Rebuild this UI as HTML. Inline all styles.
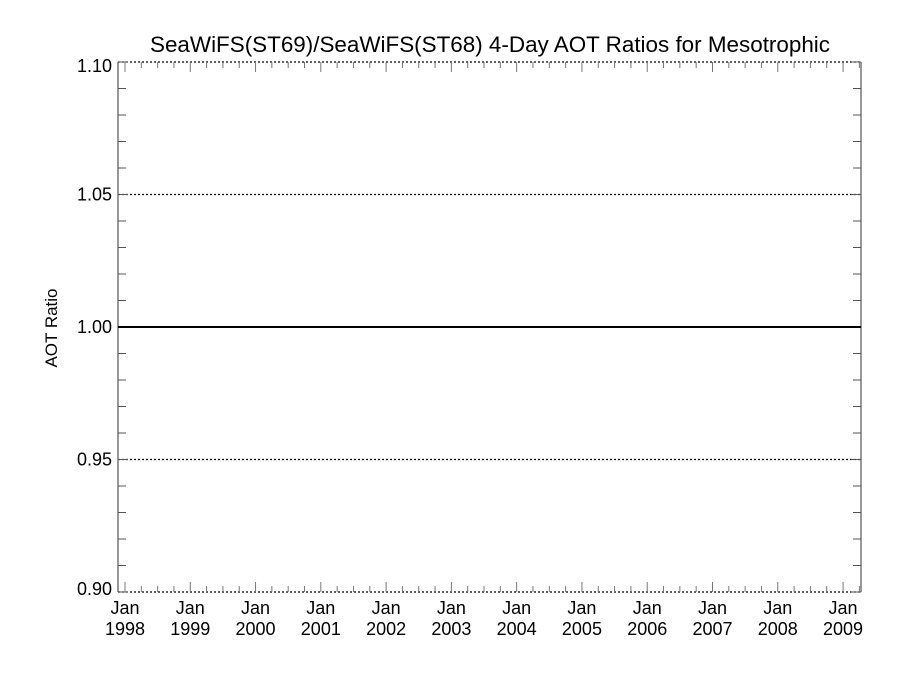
<!DOCTYPE html>
<html><head><meta charset="utf-8"><style>
body{margin:0;background:#fff;}
svg{display:block;font-family:"Liberation Sans",Helvetica,sans-serif;}
</style></head><body>
<svg id="chart" width="900" height="675" viewBox="0 0 900 675">
<text x="490" y="52" font-size="22" text-anchor="middle" textLength="680" lengthAdjust="spacingAndGlyphs">SeaWiFS(ST69)/SeaWiFS(ST68) 4-Day AOT Ratios for Mesotrophic</text>
<text transform="translate(57,328) rotate(-90)" font-size="17" text-anchor="middle">AOT Ratio</text>
<g id="grid"></g><g id="axes"></g><g id="marks"></g>
</svg>
<script>
const yTicks = [0.90, 0.95, 1.00, 1.05, 1.10];
const yTickLabels = ["0.90", "0.95", "1.00", "1.05", "1.10"];
const gridValues = [0.95, 1.05];
const referenceValue = [1.00];
const years = [1998,1999,2000,2001,2002,2003,2004,2005,2006,2007,2008,2009];

const L=118, R=861, T=62, B=592;
const yMin=0.90, yMax=1.10, xMin=1997.893, xMax=2009.275;
const ys = v => B - (v - yMin) / (yMax - yMin) * (B - T);
const xs = v => L + (v - xMin) / (xMax - xMin) * (R - L);
const NS="http://www.w3.org/2000/svg";
function mk(parent, tag, attrs){const e=document.createElementNS(NS,tag);for(const k in attrs)e.setAttribute(k,attrs[k]);document.getElementById(parent).appendChild(e);return e;}

gridValues.forEach(v=>{
  const l=mk('grid','line',{x1:L,x2:R,y1:ys(v),y2:ys(v),stroke:'#000','stroke-width':1.2,'stroke-dasharray':'2,2'});
  
  
});
referenceValue.forEach(v=>{
  const l=mk('marks','line',{x1:L,x2:R,y1:ys(v),y2:ys(v),stroke:'#000','stroke-width':2});
  
  
});
[[L,T,L,B,''],[R,T,R,B,''],[L,T,R,T,'2,2'],[L,B,R,B,'2,2']].forEach(a=>{
  const l=mk('axes','line',{x1:a[0],y1:a[1],x2:a[2],y2:a[3],stroke:'#555','stroke-width':1.2});
  if(a[4]){l.setAttribute('stroke-dasharray',a[4]);l.setAttribute('stroke','#000');}
  
  
});
for(let i=0;i<=20;i++){
  const v=yMin+i*0.01, y=ys(v), len=(i%5===0)?10:8;
  [[L,L+len],[R,R-len]].forEach(p=>{
    const t=mk('axes','line',{x1:p[0],x2:p[1],y1:y,y2:y,stroke:'#555','stroke-width':1});
    
    
  });
}
yTicks.forEach((v,i)=>{
  const t=mk('axes','text',{x:L-6,y:ys(v)+6+(i===0?-3:0)+(i===yTicks.length-1?4:0),'font-size':18,'text-anchor':'end'});
  t.textContent=yTickLabels[i];
  
  
});
for(let q=0;q<=45;q++){
  const v=1998+q*0.25; if(xs(v)>R) break;
  const len=(q%4===0)?10:6;
  [[B,B-len],[T,T+len]].forEach(p=>{
    const t=mk('axes','line',{x1:xs(v),x2:xs(v),y1:p[0],y2:p[1],stroke:'#777','stroke-width':1});
    
    
  });
}
years.forEach(yr=>{
  const t1=mk('axes','text',{x:xs(yr),y:614,'font-size':18,'text-anchor':'middle'});
  t1.textContent='Jan';
  
  
  const t2=mk('axes','text',{x:xs(yr),y:635,'font-size':18,'text-anchor':'middle'});
  t2.textContent=String(yr);
  
  
});
</script>
</body></html>
